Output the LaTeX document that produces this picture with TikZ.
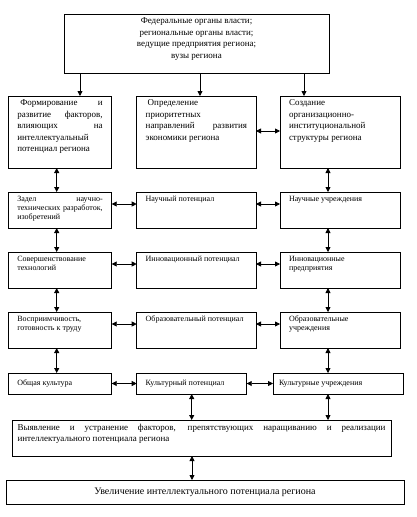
\documentclass[tikz,border=0pt]{standalone}
\usepackage{fontspec}
\setmainfont{Liberation Serif}
\usetikzlibrary{arrows.meta}
\hyphenpenalty=10000
\exhyphenpenalty=10000
\tikzset{
 bx/.style={draw, line width=0.8pt, inner xsep=9pt, inner ysep=4pt, outer sep=0pt, anchor=north west},
 big/.style={font=\fontsize{9}{11.5}\selectfont},
 small/.style={font=\fontsize{8}{9}\selectfont},
 arr/.style={line width=0.8pt, -{Triangle[length=5pt,width=5pt]}},
 darr/.style={line width=0.8pt, {Triangle[length=5pt,width=5pt]}-{Triangle[length=5pt,width=5pt]}},
}
\newcommand\tb[3]{\parbox[c][\dimexpr#2pt-8pt\relax][t]{\dimexpr#1pt-18pt\relax}{#3}}
\newcommand\tc[3]{\parbox[c][\dimexpr#2pt-8pt\relax][c]{\dimexpr#1pt-18pt\relax}{#3}}
\begin{document}
\begin{tikzpicture}[x=1pt,y=-1pt]
\useasboundingbox (0,0) rectangle (417,517);
% top
\node[bx, big] (top) at (64,14) {\tb{265}{59}{\centering Федеральные органы власти;\\ региональные органы власти;\\ ведущие предприятия региона;\\ вузы региона}};
% row 1
\node[bx, big] (r1l) at (8.3,96) {\tb{103.4}{72}{\hspace*{3pt}Формирование и\linebreak развитие факторов,\linebreak влияющих на\linebreak интеллектуальный\linebreak потенциал региона}};
\node[bx, big] (r1m) at (136.7,96) {\tb{119.3}{72}{\hspace*{2pt}Определение\linebreak приоритетных\linebreak направлений развития\linebreak экономики региона}};
\node[bx, big] (r1r) at (280,96) {\tb{120.7}{72}{Создание\linebreak организационно-\linebreak институциональной\linebreak структуры региона}};
% row 2
\node[bx, small] (r2l) at (8.3,192) {\tb{103.4}{36}{Задел научно-\linebreak технических разработок,\linebreak изобретений}};
\node[bx, small] (r2m) at (136.7,192) {\tb{119.3}{36}{Научный потенциал}};
\node[bx, small] (r2r) at (280,192) {\tb{120.7}{36}{Научные учреждения}};
% row 3
\node[bx, small] (r3l) at (8.3,252) {\tb{103.4}{36}{Совершенствование\linebreak технологий}};
\node[bx, small] (r3m) at (136.7,252) {\tb{119.3}{36}{Инновационный потенциал}};
\node[bx, small] (r3r) at (280,252) {\tb{120.7}{36}{Инновационные\linebreak предприятия}};
% row 4
\node[bx, small] (r4l) at (8.3,312) {\tb{103.4}{36}{Восприимчивость,\linebreak готовность к труду}};
\node[bx, small] (r4m) at (136.7,312) {\tb{119.3}{36}{Образовательный потенциал}};
\node[bx, small] (r4r) at (280,312) {\tb{120.7}{36}{Образовательные\linebreak учреждения}};
% row 5
\node[bx, small] (r5l) at (8.3,373) {\tc{103.4}{21}{Общая культура}};
\node[bx, small] (r5m) at (136.7,373) {\tc{110}{21}{Культурный потенциал}};
\node[bx, small] (r5r) at (273,373) {\tc{130}{21}{\hspace*{-3pt}Культурные учреждения}};
% row 6
\node[bx, big, inner xsep=5.5pt] (r6) at (12,420) {\parbox[c][28pt][t]{368pt}{Выявление и устранение факторов, препятствующих наращиванию и реализации\linebreak интеллектуального потенциала региона}};
% row 7
\node[bx, inner sep=0pt, font=\fontsize{10}{12}\selectfont] (r7) at (6,480) {\parbox[c][24.3pt][c]{398pt}{\centering Увеличение интеллектуального потенциала региона}};
% arrows from top
\draw[arr] ([xshift=16pt]top.south west) -- ([xshift=16pt]top.south west |- r1l.north);
\draw[arr] ([xshift=136pt]top.south west) -- ([xshift=136pt]top.south west |- r1m.north);
\draw[arr] ([xshift=240pt]top.south west) -- ([xshift=240pt]top.south west |- r1r.north);
% horizontal arrows
\draw[darr] ([yshift=-35pt]r1m.north east) -- ([yshift=-35pt]r1m.north east -| r1r.west);
\foreach \r in {2,3,4}{
 \draw[darr] ([yshift=-12pt]r\r l.north east) -- ([yshift=-12pt]r\r l.north east -| r\r m.west);
 \draw[darr] ([yshift=-12pt]r\r m.north east) -- ([yshift=-12pt]r\r m.north east -| r\r r.west);
}
\draw[darr] (r5l.east) -- (r5l.east -| r5m.west);
\draw[darr] (r5m.east) -- (r5m.east -| r5r.west);
% vertical arrows left and right columns
\draw[darr] ([xshift=48.4pt]r1l.south west) -- ([xshift=48.4pt]r1l.south west |- r2l.north);
\draw[darr] ([xshift=48.4pt]r2l.south west) -- ([xshift=48.4pt]r2l.south west |- r3l.north);
\draw[darr] ([xshift=48.4pt]r3l.south west) -- ([xshift=48.4pt]r3l.south west |- r4l.north);
\draw[darr] ([xshift=48.4pt]r4l.south west) -- ([xshift=48.4pt]r4l.south west |- r5l.north);
\draw[darr] ([xshift=48pt]r1r.south west) -- ([xshift=48pt]r1r.south west |- r2r.north);
\draw[darr] ([xshift=48pt]r2r.south west) -- ([xshift=48pt]r2r.south west |- r3r.north);
\draw[darr] ([xshift=48pt]r3r.south west) -- ([xshift=48pt]r3r.south west |- r4r.north);
\draw[darr] ([xshift=48pt]r4r.south west) -- ([xshift=48pt]r4r.south west |- r5r.north);
% to row 6 and row 7
\draw[darr] ([xshift=55pt]r5m.south west) -- ([xshift=55pt]r5m.south west |- r6.north);
\draw[darr] ([xshift=55pt]r5r.south west) -- ([xshift=55pt]r5r.south west |- r6.north);
\draw[darr] ([xshift=180pt]r6.south west) -- ([xshift=180pt]r6.south west |- r7.north);
\end{tikzpicture}
\end{document}
